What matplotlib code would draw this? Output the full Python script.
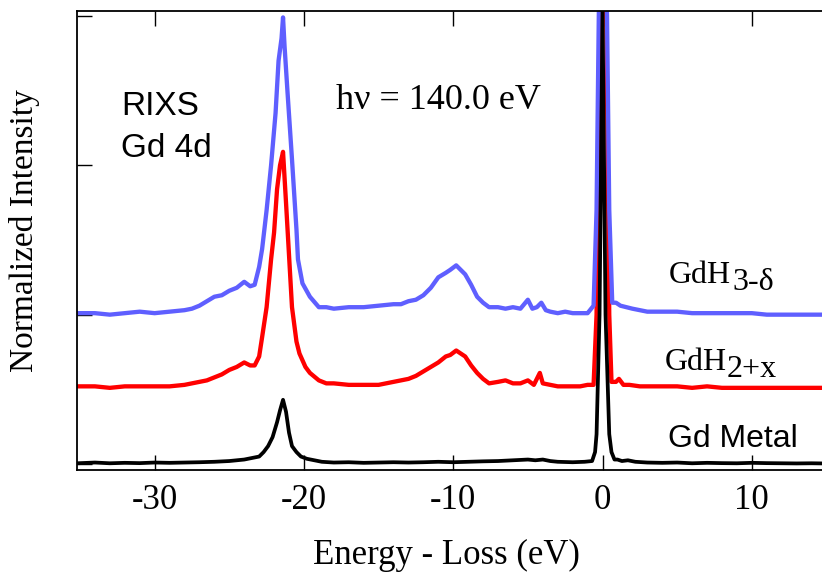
import matplotlib
matplotlib.use('Agg')
import matplotlib.pyplot as plt

# Energy loss (eV) and normalized intensity (curves are offset)
e_metal = [-35.2, -34, -33, -32, -31, -30, -29, -28, -27, -26, -25, -24.5, -24, -23.5, -23, -22.7,
           -22.4, -22.1, -21.8, -21.6, -21.4, -21.2, -21.0, -20.8, -20.5, -20.2, -19.8, -19.3, -18.8,
           -18, -17, -16, -15, -14, -13, -12, -11, -10, -9, -8, -7, -6, -5, -4.5, -4, -3.5, -3, -2,
           -1.2, -0.7, -0.5, -0.4, -0.2, 0, 0.2, 0.45, 0.6, 0.8, 1.0, 1.3, 1.7, 2.2, 3, 4, 5, 6, 7,
           8, 9, 10, 11, 12, 13, 14, 14.7]
i_metal = [0.005, 0.01, 0.005, 0.008, 0.006, 0.01, 0.008, 0.01, 0.012, 0.015, 0.02, 0.025, 0.03,
           0.04, 0.05, 0.08, 0.12, 0.18, 0.28, 0.36, 0.43, 0.35, 0.21, 0.12, 0.08, 0.05, 0.035,
           0.025, 0.015, 0.01, 0.012, 0.008, 0.01, 0.012, 0.01, 0.012, 0.015, 0.012, 0.015, 0.018,
           0.02, 0.025, 0.03, 0.025, 0.03, 0.02, 0.015, 0.012, 0.015, 0.02, 0.08, 0.2, 1.0, 3.05,
           1.0, 0.2, 0.08, 0.03, 0.03, 0.02, 0.025, 0.015, 0.01, 0.008, 0.01, 0.005, 0.008, 0.006,
           0.005, 0.008, 0.006, 0.005, 0.004, 0.005, 0.004]

e_gdh2 = [-35.2, -34, -33, -32, -31, -30, -29, -28, -27.5, -27, -26.5, -26, -25.5, -25, -24.5, -24,
          -23.6, -23.3, -23.0, -22.8, -22.5, -22.2, -22.0, -21.8, -21.6, -21.4, -21.2, -21.0, -20.8,
          -20.5, -20.3, -19.9, -19.6, -19.0, -18.5, -18, -17, -16, -15, -14, -13, -12.5, -12, -11.5,
          -11, -10.5, -10.2, -9.8, -9.5, -9.2, -8.8, -8.4, -8, -7.6, -7, -6.5, -6, -5.5, -5.0, -4.6,
          -4.2, -4.0, -3.5, -3, -2, -1.5, -1, -0.6, -0.4, -0.2, 0.0, 0.25, 0.45, 0.6, 0.9, 1.1, 1.4,
          1.8, 2.5, 3, 4, 5, 6, 7, 8, 9, 10, 11, 12, 13, 14, 14.7]
i_gdh2 = [0.52, 0.52, 0.51, 0.52, 0.52, 0.52, 0.52, 0.53, 0.54, 0.55, 0.56, 0.58, 0.60, 0.63, 0.65,
          0.68, 0.66, 0.66, 0.72, 0.85, 1.05, 1.37, 1.55, 1.84, 2.0, 2.09, 1.75, 1.4, 1.05, 0.82,
          0.74, 0.65, 0.61, 0.56, 0.54, 0.54, 0.53, 0.53, 0.53, 0.55, 0.57, 0.59, 0.62, 0.65, 0.68,
          0.72, 0.73, 0.76, 0.74, 0.72, 0.66, 0.61, 0.57, 0.54, 0.55, 0.56, 0.54, 0.54, 0.56, 0.53,
          0.61, 0.54, 0.53, 0.52, 0.52, 0.52, 0.53, 0.53, 1.0, 3.0, 4.5, 3.0, 1.0, 0.55, 0.55, 0.57,
          0.53, 0.53, 0.52, 0.52, 0.52, 0.52, 0.51, 0.52, 0.51, 0.51, 0.51, 0.51, 0.51, 0.51, 0.51,
          0.51]

e_gdh3 = [-35.2, -34, -33, -32, -31, -30, -29, -28, -27.5, -27, -26.5, -26, -25.5, -25, -24.5, -24,
          -23.6, -23.3, -23.0, -22.8, -22.5, -22.2, -21.9, -21.7, -21.5, -21.4, -21.3, -21.1, -20.8,
          -20.5, -20.4, -20.1, -19.6, -19.0, -18.5, -18, -17, -16, -15, -14, -13.5, -13, -12.5, -12,
          -11.5, -11, -10.5, -10.2, -9.8, -9.5, -9.2, -8.8, -8.4, -8, -7.6, -7, -6.5, -6, -5.5, -5.0,
          -4.7, -4.4, -4.1, -3.8, -3.5, -3, -2.5, -2, -1.5, -1, -0.6, -0.4, -0.25, 0.0, 0.3, 0.45,
          0.65, 0.9, 1.2, 1.6, 2, 3, 4, 5, 6, 7, 8, 9, 10, 11, 12, 13, 14, 14.7]
i_gdh3 = [1.01, 1.01, 1.00, 1.01, 1.02, 1.01, 1.02, 1.03, 1.04, 1.06, 1.09, 1.12, 1.13, 1.16, 1.18,
          1.22, 1.19, 1.20, 1.32, 1.44, 1.70, 2.0, 2.35, 2.7, 2.85, 2.99, 2.8, 2.49, 2.04, 1.57,
          1.37, 1.21, 1.12, 1.05, 1.05, 1.04, 1.05, 1.05, 1.06, 1.07, 1.07, 1.09, 1.10, 1.13, 1.18,
          1.25, 1.28, 1.30, 1.33, 1.30, 1.27, 1.20, 1.12, 1.08, 1.05, 1.05, 1.04, 1.05, 1.04, 1.10,
          1.04, 1.05, 1.08, 1.03, 1.02, 1.01, 1.02, 1.01, 1.01, 1.01, 1.06, 1.7, 3.0, 4.5, 3.0, 1.7,
          1.08, 1.08, 1.06, 1.05, 1.04, 1.02, 1.02, 1.02, 1.01, 1.01, 1.01, 1.01, 1.01, 1.0, 1.0,
          1.0, 1.0, 1.0]

x_ticks = [-30, -20, -10, 0, 10]
y_ticks = [0, 1, 2, 3]

serif = 'Liberation Serif'
sans = 'Liberation Sans'

fig = plt.figure(figsize=(8.22, 5.79), dpi=100)
ax = fig.add_axes([77 / 822, 109 / 579, 745 / 822, 459 / 579])

ax.plot(e_gdh2, i_gdh2, color='#ff0000', lw=3.1)
ax.plot(e_gdh3, i_gdh3, color='#5f5fff', lw=3.1)
ax.plot(e_metal, i_metal, color='black', lw=2.7)

ax.set_xlim(-35.2, 14.7)
ax.set_ylim(-0.04, 3.033)
ax.set_xticks(x_ticks)
ax.set_xticklabels([str(t) for t in x_ticks], fontfamily=serif, fontsize=25)
ax.set_yticks(y_ticks)
ax.set_yticklabels([])
ax.tick_params(axis='x', direction='in', length=10.5, width=1, top=True, pad=10)
ax.tick_params(axis='y', direction='in', length=10.5, width=1, right=False)
ax.spines['right'].set_visible(False)
for s in ['left', 'top', 'bottom']:
    ax.spines[s].set_linewidth(1.3)

ax.set_xlabel('Energy - Loss (eV)', fontfamily=serif, fontsize=25)
ax.xaxis.set_label_coords((446 - 77) / 745, (470 - 539) / 459)
ax.set_ylabel('Normalized Intensity', fontfamily=serif, fontsize=24)
ax.yaxis.set_label_coords((40 - 77) / 745, (470 - 231) / 459)


def put(px, py, s, family, size):
    fig.text(px / 822, 1 - py / 579, s, fontfamily=family, fontsize=size,
             ha='left', va='baseline')


put(121, 115, 'RIXS', sans, 24)
put(121, 157, 'Gd 4d', sans, 24)
put(336, 109, 'h\u03bd = 140.0 eV', serif, 26)
put(669, 283, 'GdH', serif, 23)
put(732, 290, '3-\u03b4', serif, 23)
put(665, 370, 'GdH', serif, 23)
put(727, 377, '2+x', serif, 23)
put(668, 447, 'Gd Metal', sans, 23)

fig.savefig('out.png', dpi=100)
